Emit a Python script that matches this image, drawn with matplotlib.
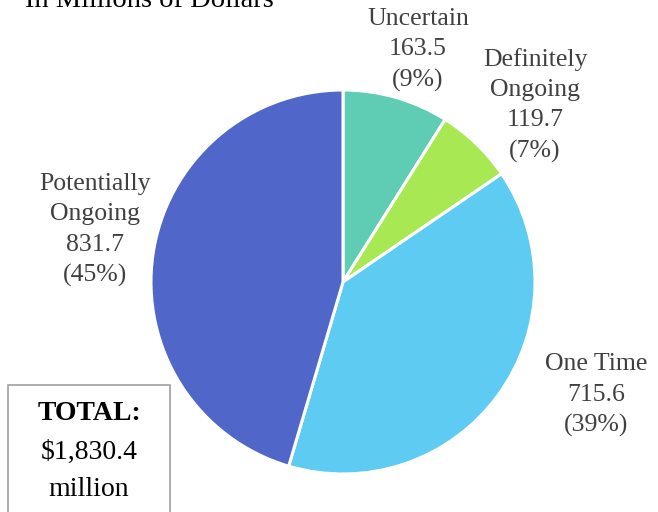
import numpy as np
import matplotlib.pyplot as plt
import matplotlib.patches as patches

# data (millions of dollars)
labels = ['Uncertain', 'Definitely\nOngoing', 'One Time', 'Potentially\nOngoing']
values = [163.5, 119.7, 715.6, 831.7]
total = 1830.4  # as printed in the source
colors = ['#5ecdb3', '#a8e852', '#5ecbf2', '#5067c9']
# label anchor positions in pie units (radius = 1)
label_pos = [(0.39, 1.21), (1.0, 0.92), (1.32, -0.59), (-1.29, 0.27)]

W, H = 658, 512
fig = plt.figure(figsize=(W / 100, H / 100), dpi=100)

# pie centre ~ (343, 282) px, radius ~ 192 px
cx, cy, r = 343, 282, 192
ax = fig.add_axes([(cx - r) / W, (H - cy - r) / H, 2 * r / W, 2 * r / H])
wedges, _ = ax.pie(values, colors=colors, startangle=90, counterclock=False,
                   wedgeprops=dict(edgecolor='white', linewidth=2.2))
for w in wedges:
    w.set_clip_on(False)
ax.set_xlim(-1, 1)
ax.set_ylim(-1, 1)
ax.axis('off')

serif = 'Liberation Serif'
for lab, v, (x, y) in zip(labels, values, label_pos):
    txt = '%s\n%.1f\n(%d%%)' % (lab, v, round(v / sum(values) * 100))
    ax.text(x, y, txt, ha='center', va='center', fontsize=18.5, family=serif,
            color='#404040', linespacing=1.48, clip_on=False)

# title (cut off at top in the original)
fig.text(25 / W, 1 - 7 / H, 'In Millions of Dollars', ha='left', va='baseline',
         fontsize=20.5, family=serif, color='black')

# total box
box = patches.Rectangle((8 / W, -0.05), (170 - 8) / W, 0.05 + (H - 385) / H,
                        transform=fig.transFigure, facecolor='white',
                        edgecolor='#a0a0a0', linewidth=1.2)
fig.patches.append(box)
fig.text(89 / W, 1 - 414 / H, 'TOTAL:', ha='center', va='center', fontsize=20,
         family=serif, fontweight='bold', color='black')
fig.text(89 / W, 1 - 452 / H, '$%s' % format(total, ',.1f'), ha='center', va='center',
         fontsize=20, family=serif, color='black')
fig.text(89 / W, 1 - 490 / H, 'million', ha='center', va='center', fontsize=20,
         family=serif, color='black')

fig.savefig('out.png', dpi=100)
